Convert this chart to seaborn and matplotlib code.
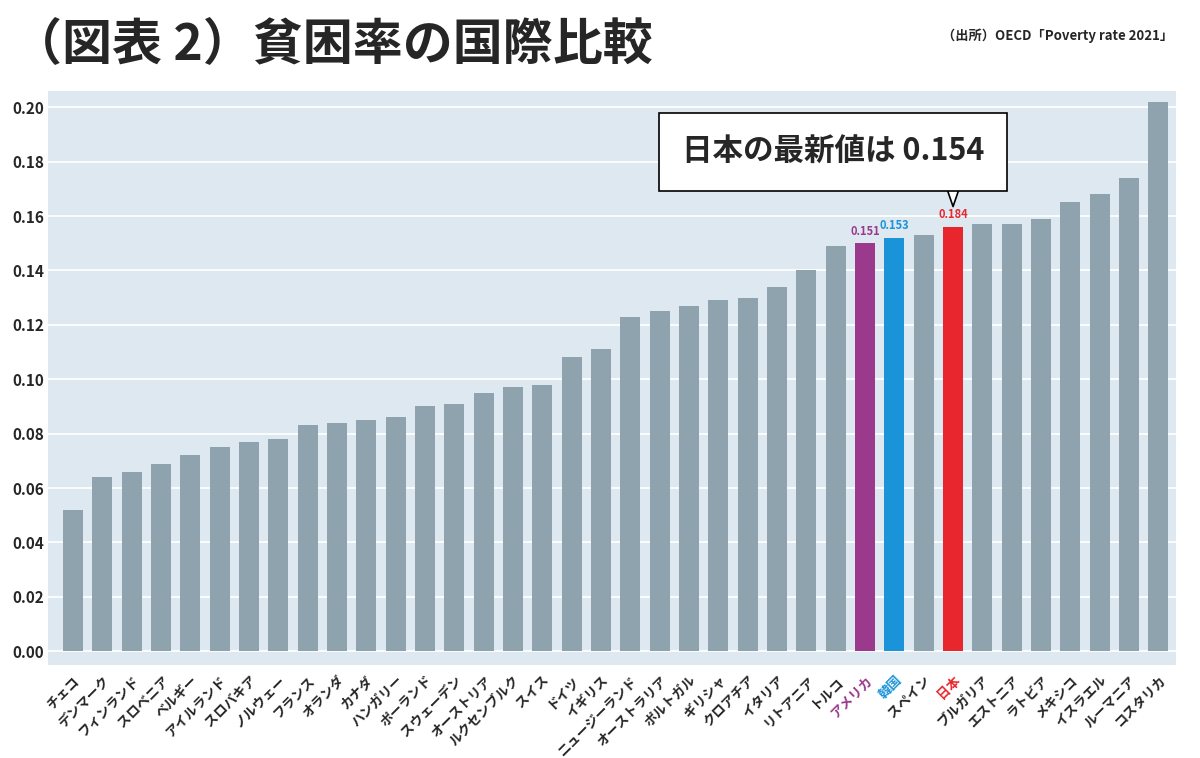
import matplotlib
matplotlib.use("Agg")
import matplotlib.pyplot as plt
import seaborn as sns
import pandas as pd

countries = ["チェコ", "デンマーク", "フィンランド", "スロベニア", "ベルギー", "アイルランド", "スロバキア",
             "ノルウェー", "フランス", "オランダ", "カナダ", "ハンガリー", "ポーランド", "スウェーデン",
             "オーストリア", "ルクセンブルク", "スイス", "ドイツ", "イギリス", "ニュージーランド",
             "オーストラリア", "ポルトガル", "ギリシャ", "クロアチア", "イタリア", "リトアニア", "トルコ",
             "アメリカ", "韓国", "スペイン", "日本", "ブルガリア", "エストニア", "ラトビア", "メキシコ",
             "イスラエル", "ルーマニア", "コスタリカ"]
rates = [0.052, 0.064, 0.066, 0.069, 0.072, 0.075, 0.077, 0.078, 0.083, 0.084, 0.085, 0.086,
         0.090, 0.091, 0.095, 0.097, 0.098, 0.108, 0.111, 0.123, 0.125, 0.127, 0.129, 0.130,
         0.134, 0.140, 0.149, 0.150, 0.152, 0.153, 0.156, 0.157, 0.157, 0.159, 0.165, 0.168,
         0.174, 0.202]
yticks = [0.00, 0.02, 0.04, 0.06, 0.08, 0.10, 0.12, 0.14, 0.16, 0.18, 0.20]
highlight = {"アメリカ": ("#9b3a8c", "0.151"), "韓国": ("#1a93d8", "0.153"), "日本": ("#e8262d", "0.184")}
gray = "#8fa3ae"

df = pd.DataFrame({"country": countries, "rate": rates})

sns.set_theme(style="white")
plt.rcParams["font.family"] = ["Noto Sans CJK JP", "DejaVu Sans"]

fig = plt.figure(figsize=(12, 7.58), dpi=100)
ax = fig.add_axes([0.04, 0.123, 0.94, 0.757])
ax.set_facecolor("#dde8f0")

palette = [highlight[c][0] if c in highlight else gray for c in countries]
sns.barplot(data=df, x="country", y="rate", hue="country", palette=palette, legend=False,
            width=0.68, saturation=1, linewidth=0, ax=ax, zorder=3)

ax.set_ylim(-0.005, 0.206)
ax.set_xlim(-0.85, len(countries) - 0.4)
ax.set_yticks(yticks)
ax.set_yticklabels([f"{v:.2f}" for v in yticks], fontsize=11, fontweight="bold")
for t in ax.get_yticklabels():
    t.set_horizontalalignment("left")
ax.tick_params(axis="y", pad=26, length=0)
ax.grid(axis="y", color="white", linewidth=1.2, zorder=0)
for s in ax.spines.values():
    s.set_visible(False)
ax.set_xlabel("")
ax.set_ylabel("")
ax.set_xticks(range(len(countries)))
ax.set_xticklabels(countries, rotation=45, ha="right", rotation_mode="anchor",
                   fontsize=9.5, fontweight="bold")
ax.tick_params(axis="x", length=0, pad=6)
for t in ax.get_xticklabels():
    if t.get_text() in highlight:
        t.set_color(highlight[t.get_text()][0])

for i, c in enumerate(countries):
    if c in highlight:
        col, lab = highlight[c]
        ax.text(i, rates[i] + 0.002, lab, color=col, ha="center", va="bottom",
                fontsize=8, fontweight="bold")

# callout box
ji = countries.index("日本")
ax.annotate("", xy=(ji, rates[ji] + 0.0075), xytext=(ji, 0.176),
            arrowprops=dict(arrowstyle="wedge,tail_width=1.4,shrink_factor=0.5", fc="white",
                            ec="black", lw=1.2, shrinkA=0, shrinkB=0), zorder=5)
ax.text(25.9, 0.1835, "日本の最新値は 0.154", ha="center", va="center", fontsize=22,
        fontweight="bold", zorder=6,
        bbox=dict(boxstyle="square,pad=0.75", fc="white", ec="black", lw=1.2))

fig.text(0.01, 0.94, "（図表 2）貧困率の国際比較", fontsize=36, fontweight="bold", va="center")
fig.text(0.978, 0.953, "（出所）OECD「Poverty rate 2021」", fontsize=9.5, fontweight="bold",
         ha="right", va="center")

fig.savefig("out.png", dpi=100)
